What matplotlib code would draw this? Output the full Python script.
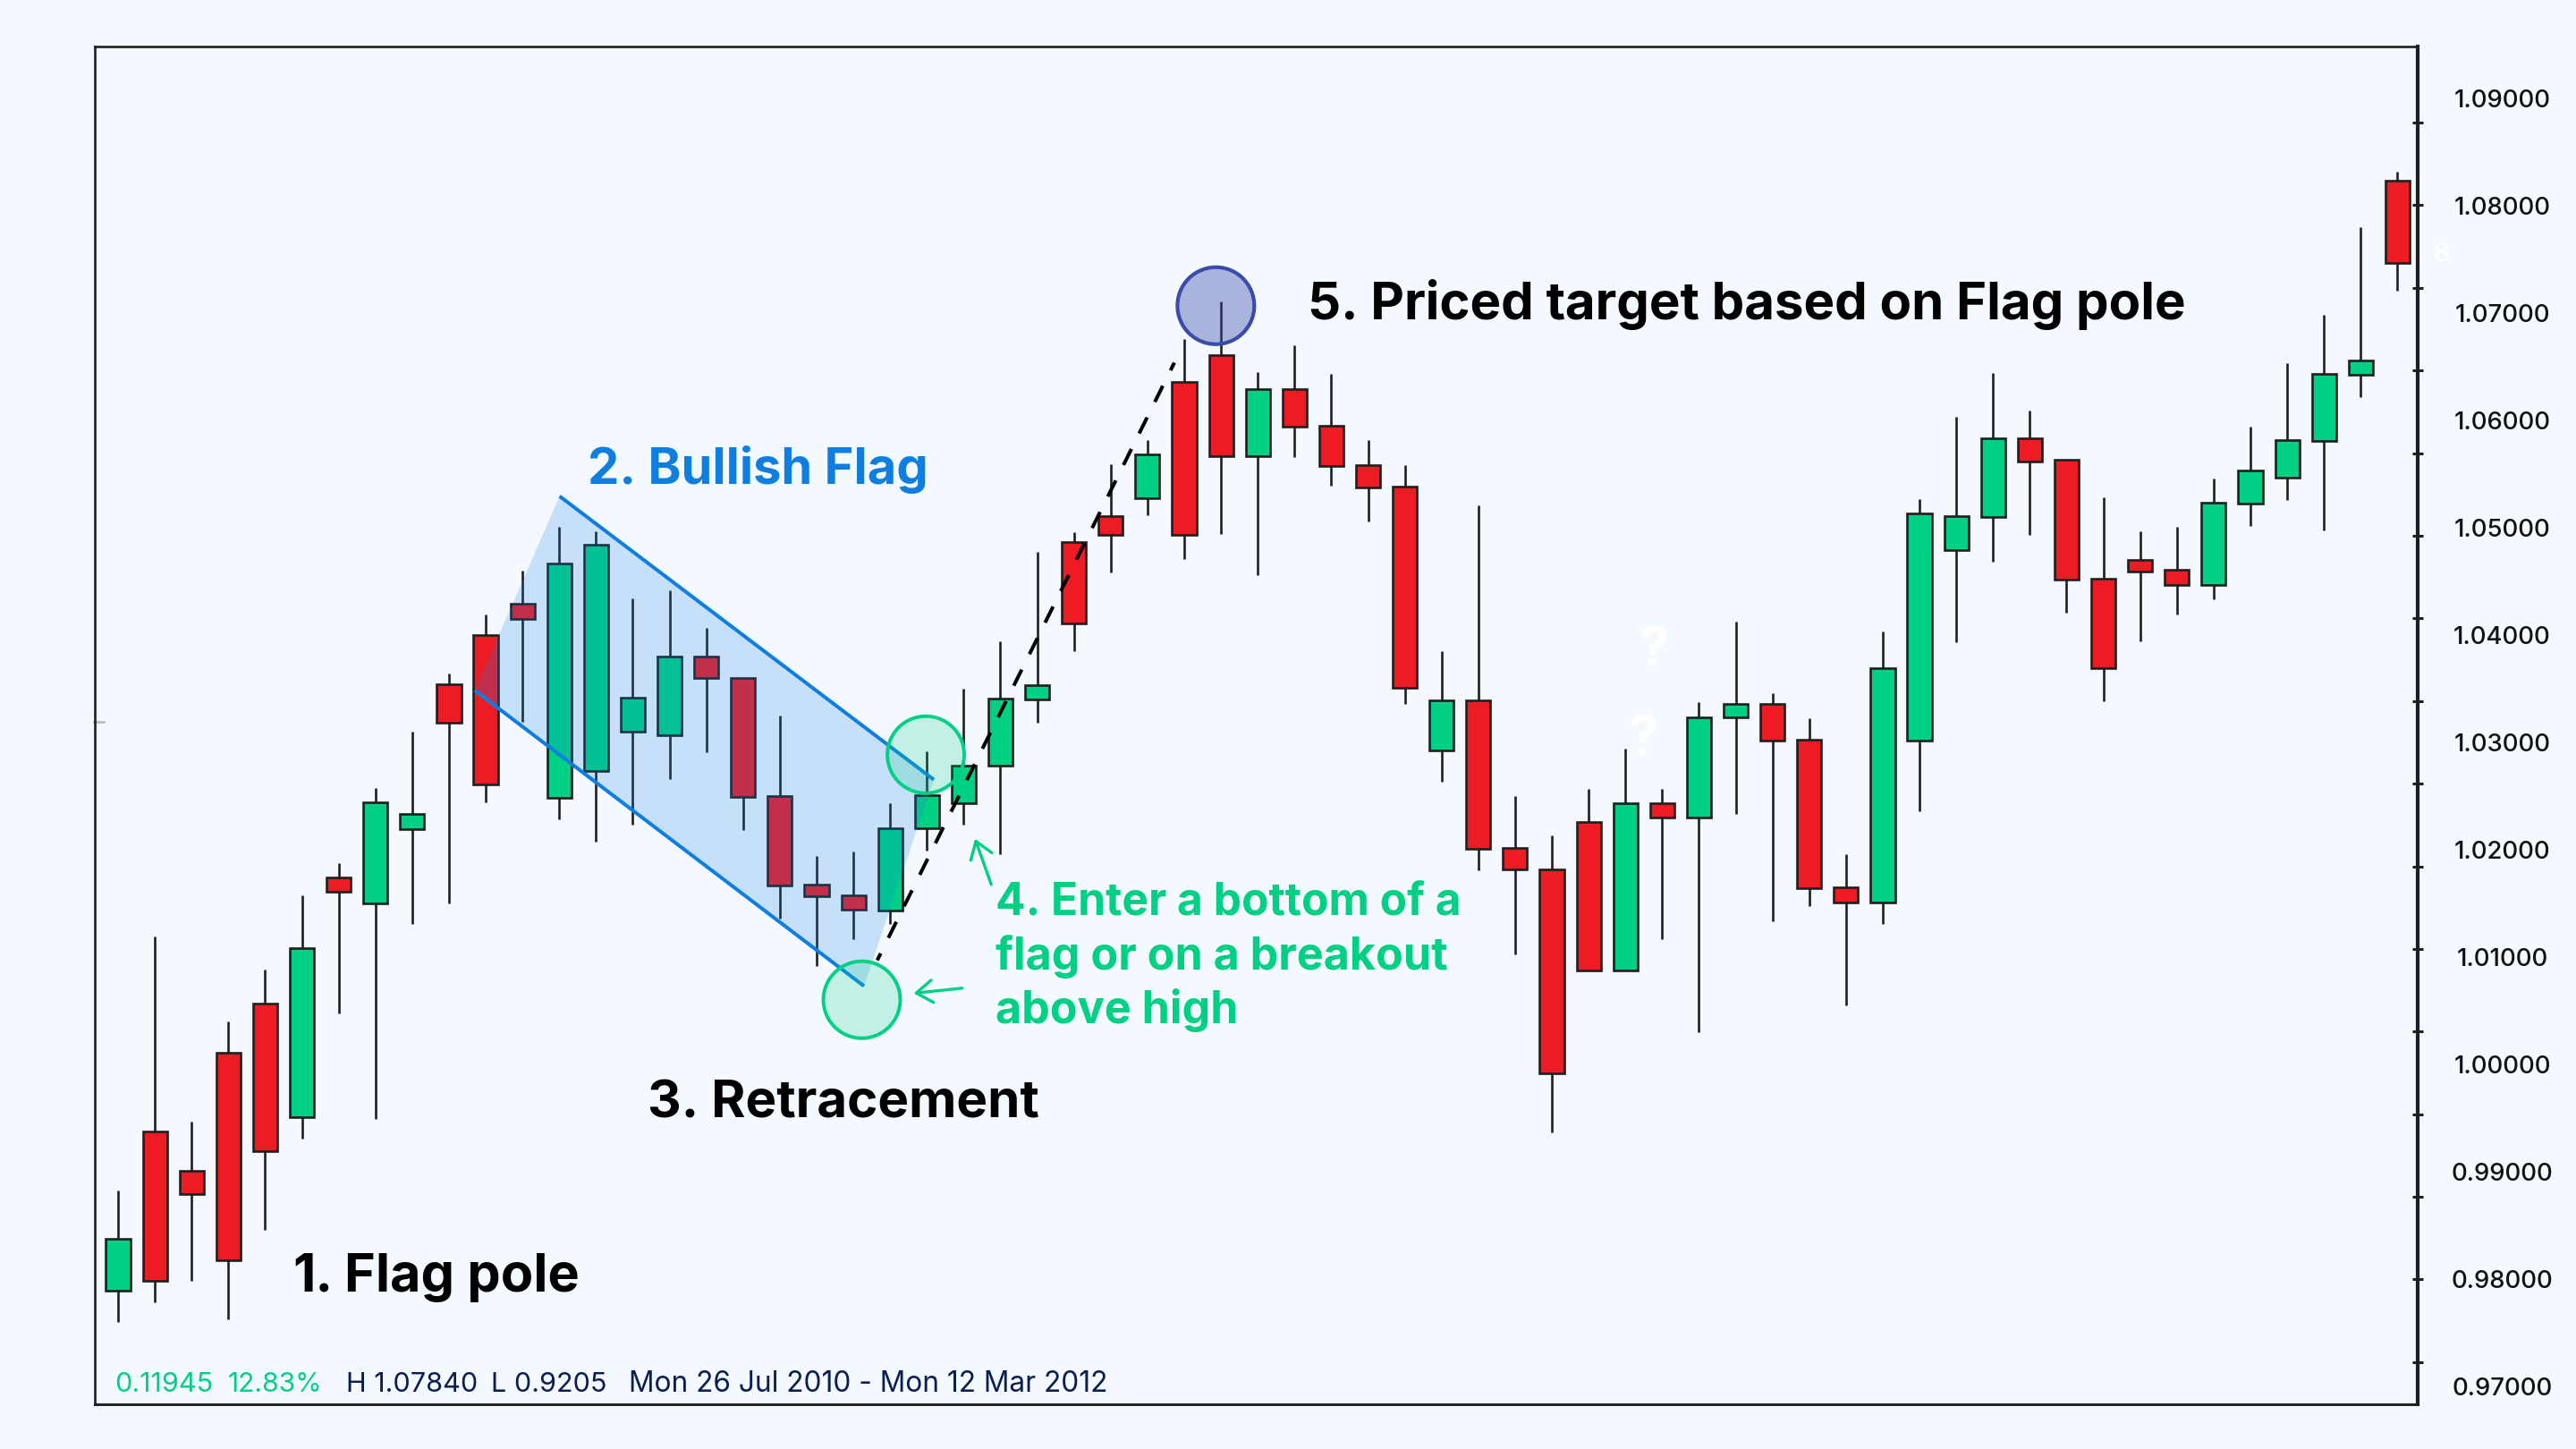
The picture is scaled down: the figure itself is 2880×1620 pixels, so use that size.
import matplotlib
matplotlib.use('Agg')
import matplotlib.pyplot as plt
from matplotlib.patches import Ellipse, Polygon, Rectangle

# Candle data
direction = ['up', 'down', 'down', 'down', 'down', 'up', 'down', 'up', 'up', 'down', 'down', 'down', 'up', 'up', 'up', 'up',
             'down', 'down', 'down', 'down', 'down', 'up', 'up', 'up', 'up', 'up', 'down', 'down', 'up', 'down', 'down', 'up',
             'down', 'down', 'down', 'down', 'up', 'down', 'down', 'down', 'down', 'up', 'down', 'up', 'up', 'down', 'down', 'down',
             'up', 'up', 'up', 'up', 'down', 'down', 'down', 'down', 'down', 'up', 'up', 'up', 'up', 'up', 'down']
wick_high = [0.98821, 1.01193, 0.99464, 1.00401, 1.00887, 1.01576, 1.01876, 1.02578, 1.03101, 1.03638, 1.04189, 1.04601, 1.05010, 1.04968, 1.04338, 1.04418,
             1.04068, 1.03601, 1.03251, 1.01938, 1.01985, 1.02435, 1.02913, 1.03501, 1.03945, 1.04776, 1.04960, 1.05593, 1.05818, 1.06760, 1.07112, 1.06451,
             1.06701, 1.06435, 1.05818, 1.05579, 1.03851, 1.05210, 1.02501, 1.02135, 1.02570, 1.02945, 1.02570, 1.03376, 1.04126, 1.03462, 1.03226, 1.01960,
             1.04035, 1.05268, 1.06035, 1.06445, 1.06095, 1.05629, 1.05279, 1.04968, 1.05010, 1.05460, 1.05943, 1.06535, 1.06979, 1.07801, 1.08320]
body_top = [0.98376, 0.99372, 0.99005, 1.00110, 1.00568, 1.01085, 1.01743, 1.02443, 1.02335, 1.03538, 1.04001, 1.04293, 1.04668, 1.04843, 1.03418, 1.03801,
            1.03801, 1.03601, 1.02496, 1.01676, 1.01576, 1.02201, 1.02504, 1.02785, 1.03404, 1.03529, 1.04868, 1.05112, 1.05687, 1.06360, 1.06604, 1.06293,
            1.06293, 1.05951, 1.05579, 1.05379, 1.03393, 1.03393, 1.02018, 1.01820, 1.02260, 1.02435, 1.02435, 1.03235, 1.03362, 1.03362, 1.03026, 1.01651,
            1.03695, 1.05135, 1.05110, 1.05835, 1.05835, 1.05629, 1.04526, 1.04701, 1.04604, 1.05229, 1.05535, 1.05818, 1.06435, 1.06562, 1.08229]
body_bottom = [0.97888, 0.97980, 0.98793, 0.98176, 0.99189, 0.99510, 1.01610, 1.01501, 1.02193, 1.03185, 1.02610, 1.04151, 1.02485, 1.02730, 1.03101, 1.03068,
               1.03601, 1.02493, 1.01668, 1.01568, 1.01443, 1.01435, 1.02201, 1.02435, 1.02785, 1.03401, 1.04110, 1.04937, 1.05276, 1.04935, 1.05668, 1.05668,
               1.05943, 1.05576, 1.05376, 1.03510, 1.02926, 1.02012, 1.01818, 0.99918, 1.00876, 1.00876, 1.02301, 1.02301, 1.03229, 1.03020, 1.01643, 1.01512,
               1.01512, 1.03020, 1.04795, 1.05101, 1.05620, 1.04520, 1.03695, 1.04595, 1.04468, 1.04468, 1.05226, 1.05468, 1.05810, 1.06426, 1.07468]
wick_low = [0.97597, 0.97780, 0.97980, 0.97626, 0.98454, 0.99310, 1.00476, 0.99493, 1.01310, 1.01501, 1.02443, 1.03193, 1.02280, 1.02076, 1.02235, 1.02660,
            1.02905, 1.02180, 1.01354, 1.00918, 1.01168, 1.01310, 1.01993, 1.02235, 1.01960, 1.03187, 1.03851, 1.04579, 1.05120, 1.04710, 1.04943, 1.04562,
            1.05662, 1.05395, 1.05060, 1.03362, 1.02635, 1.01812, 1.01026, 0.99368, 1.00876, 1.00876, 1.01168, 1.00301, 1.02335, 1.01329, 1.01476, 1.00551,
            1.01310, 1.02362, 1.03935, 1.04687, 1.04935, 1.04210, 1.03385, 1.03943, 1.04195, 1.04329, 1.05018, 1.05262, 1.04976, 1.06218, 1.07210]

price_labels = [1.09, 1.08, 1.07, 1.06, 1.05, 1.04, 1.03, 1.02, 1.01, 1.00, 0.99, 0.98, 0.97]
axis_ticks = [1.08776, 1.08010, 1.07235, 1.06468, 1.05693, 1.04926, 1.04160, 1.03385,
              1.02618, 1.01843, 1.01076, 1.00310, 0.99535, 0.98768, 0.98001, 0.97226]

# Drawn annotations, in candle index / price
flag_x = [9.70, 12.01, 22.19, 20.29]
flag_p = [1.03485, 1.05293, 1.02652, 1.00729]
target_x = [20.65, 28.73]
target_p = [1.00970, 1.06537]
circle_w = 2.09
circle_h = 0.00717

BG = '#F3F9FF'
DARK = '#1F1F1F'
RED = '#ED1C24'
GREEN = '#00D084'
BLUE = '#0E7FE1'
NAVY = '#0A1E50'
HEAD_FONT = ['Inter', 'DejaVu Sans']
W, H = 2880, 1620


def label(x, y, text, color='black', size=20.6, weight='bold', family=HEAD_FONT):
    # x, y = left end and baseline, in pixels of the finished picture
    fig.text(x / W, 1 - y / H, text, color=color, fontsize=size, fontweight=weight,
             family=family, ha='left', va='baseline')


fig = plt.figure(figsize=(14.4, 8.1), dpi=200, facecolor=BG)
ax = fig.add_axes([106 / W, 50 / H, (2703 - 106) / W, (1570 - 52) / H], facecolor=BG)
ax.set_xlim(-0.633, 62.55)
ax.set_ylim(0.96833, 1.09483)

for i, d in enumerate(direction):
    ax.plot([i, i], [wick_low[i], wick_high[i]], color=DARK, lw=0.95, solid_capstyle='butt', zorder=2)
    ax.add_patch(Rectangle((i - 0.33, body_bottom[i]), 0.66, body_top[i] - body_bottom[i],
                           facecolor=GREEN if d == 'up' else RED, edgecolor=DARK, lw=0.95, zorder=3))

# flag channel
ax.add_patch(Polygon(list(zip(flag_x, flag_p)), closed=True, facecolor='#1380E8', edgecolor='none', alpha=0.2, zorder=4))
ax.plot(flag_x[1:3], flag_p[1:3], color=BLUE, lw=1.45, solid_capstyle='butt', zorder=5)
ax.plot([flag_x[0], flag_x[3]], [flag_p[0], flag_p[3]], color=BLUE, lw=1.45, solid_capstyle='butt', zorder=5)

# target line
ax.plot(target_x, target_p, color='black', lw=1.44, linestyle=(2.85, (5, 4.84)), dash_capstyle='butt', zorder=6)

# circles
for cx, cp in [(21.97, 1.02885), (20.23, 1.00602)]:
    ax.add_patch(Ellipse((cx, cp), circle_w, circle_h, facecolor=matplotlib.colors.to_rgba(GREEN, 0.2),
                         edgecolor=GREEN, lw=1.4, zorder=7))
ax.add_patch(Ellipse((29.86, 1.07068), circle_w, circle_h, facecolor=matplotlib.colors.to_rgba('#3B4CA8', 0.4),
                     edgecolor='#3B4CA8', lw=1.5, zorder=7))

# arrows
for tail, tip in [((22.96, 1.00710), (21.64, 1.00662)), ((23.75, 1.01676), (23.31, 1.02101))]:
    ax.annotate('', xy=tip, xytext=tail, zorder=8,
                arrowprops=dict(arrowstyle='->,head_length=0.65,head_width=0.45', mutation_scale=10,
                                color=GREEN, lw=1.2, shrinkA=0, shrinkB=0))

# small grey mark on the left edge
ax.plot([-0.657, -0.39], [1.03193, 1.03193], color='#BDBDBD', lw=1.0, clip_on=False, zorder=1)

# price labels sit on their own axis, the tick marks of the frame do not line up with them
ax2 = ax.twinx()
ax2.set_ylim(ax.get_ylim())
ax2.set_yticks(price_labels)
ax2.set_yticklabels(['%.5f' % p for p in price_labels], fontsize=9.9, color='#111111', family=HEAD_FONT,
                    fontweight='medium', ha='center')
ax2.tick_params(axis='y', length=0, pad=34)
for s in ax2.spines.values():
    s.set_visible(False)

# frame and axis
ax.set_xticks([])
ax.set_yticks(axis_ticks)
ax.set_yticklabels([])
ax.yaxis.tick_right()
ax.tick_params(axis='y', direction='inout', length=4.4, width=1.1, color=DARK)
for side, lw in [('top', 0.95), ('left', 0.95), ('bottom', 1.05), ('right', 1.5)]:
    ax.spines[side].set_linewidth(lw)
    ax.spines[side].set_color(DARK)

# headings
label(327, 1444, '1.', size=21.2)
label(385, 1444, 'Flag pole', size=21.4)
label(657, 541, '2. Bullish Flag', color=BLUE, size=20.2)
label(724, 1249, '3. Retracement', size=21)
label(1462, 357, '5. Priced target based on Flag pole', size=20.95)
label(1113, 1024, '4. Enter a bottom of a', color=GREEN, size=17.9)
label(1113, 1084, 'flag or on a breakout', color=GREEN, size=18.1)
label(1113, 1144, 'above high', color=GREEN, size=18.1)

# footer
label(128, 1556, '0.11945', color=GREEN, size=11, weight='normal')
label(255, 1556, '12.83%', color=GREEN, size=10.8, weight='normal')
label(387, 1556, 'H 1.07840', color=NAVY, size=11, weight='normal')
label(549, 1556, 'L 0.9205', color=NAVY, size=11, weight='normal')
label(703, 1556, 'Mon 26 Jul 2010 - Mon 12 Mar 2012', color=NAVY, size=11.4, weight='normal')

# faint white marks on the chart
label(1832, 746, '?', color='white', size=22, weight='bold')
label(1820, 844, '?', color='white', size=22, weight='bold')
label(2720, 292, '8', color='white', size=10.5, weight='normal')

fig.savefig('out.png', dpi=200, facecolor=BG)
